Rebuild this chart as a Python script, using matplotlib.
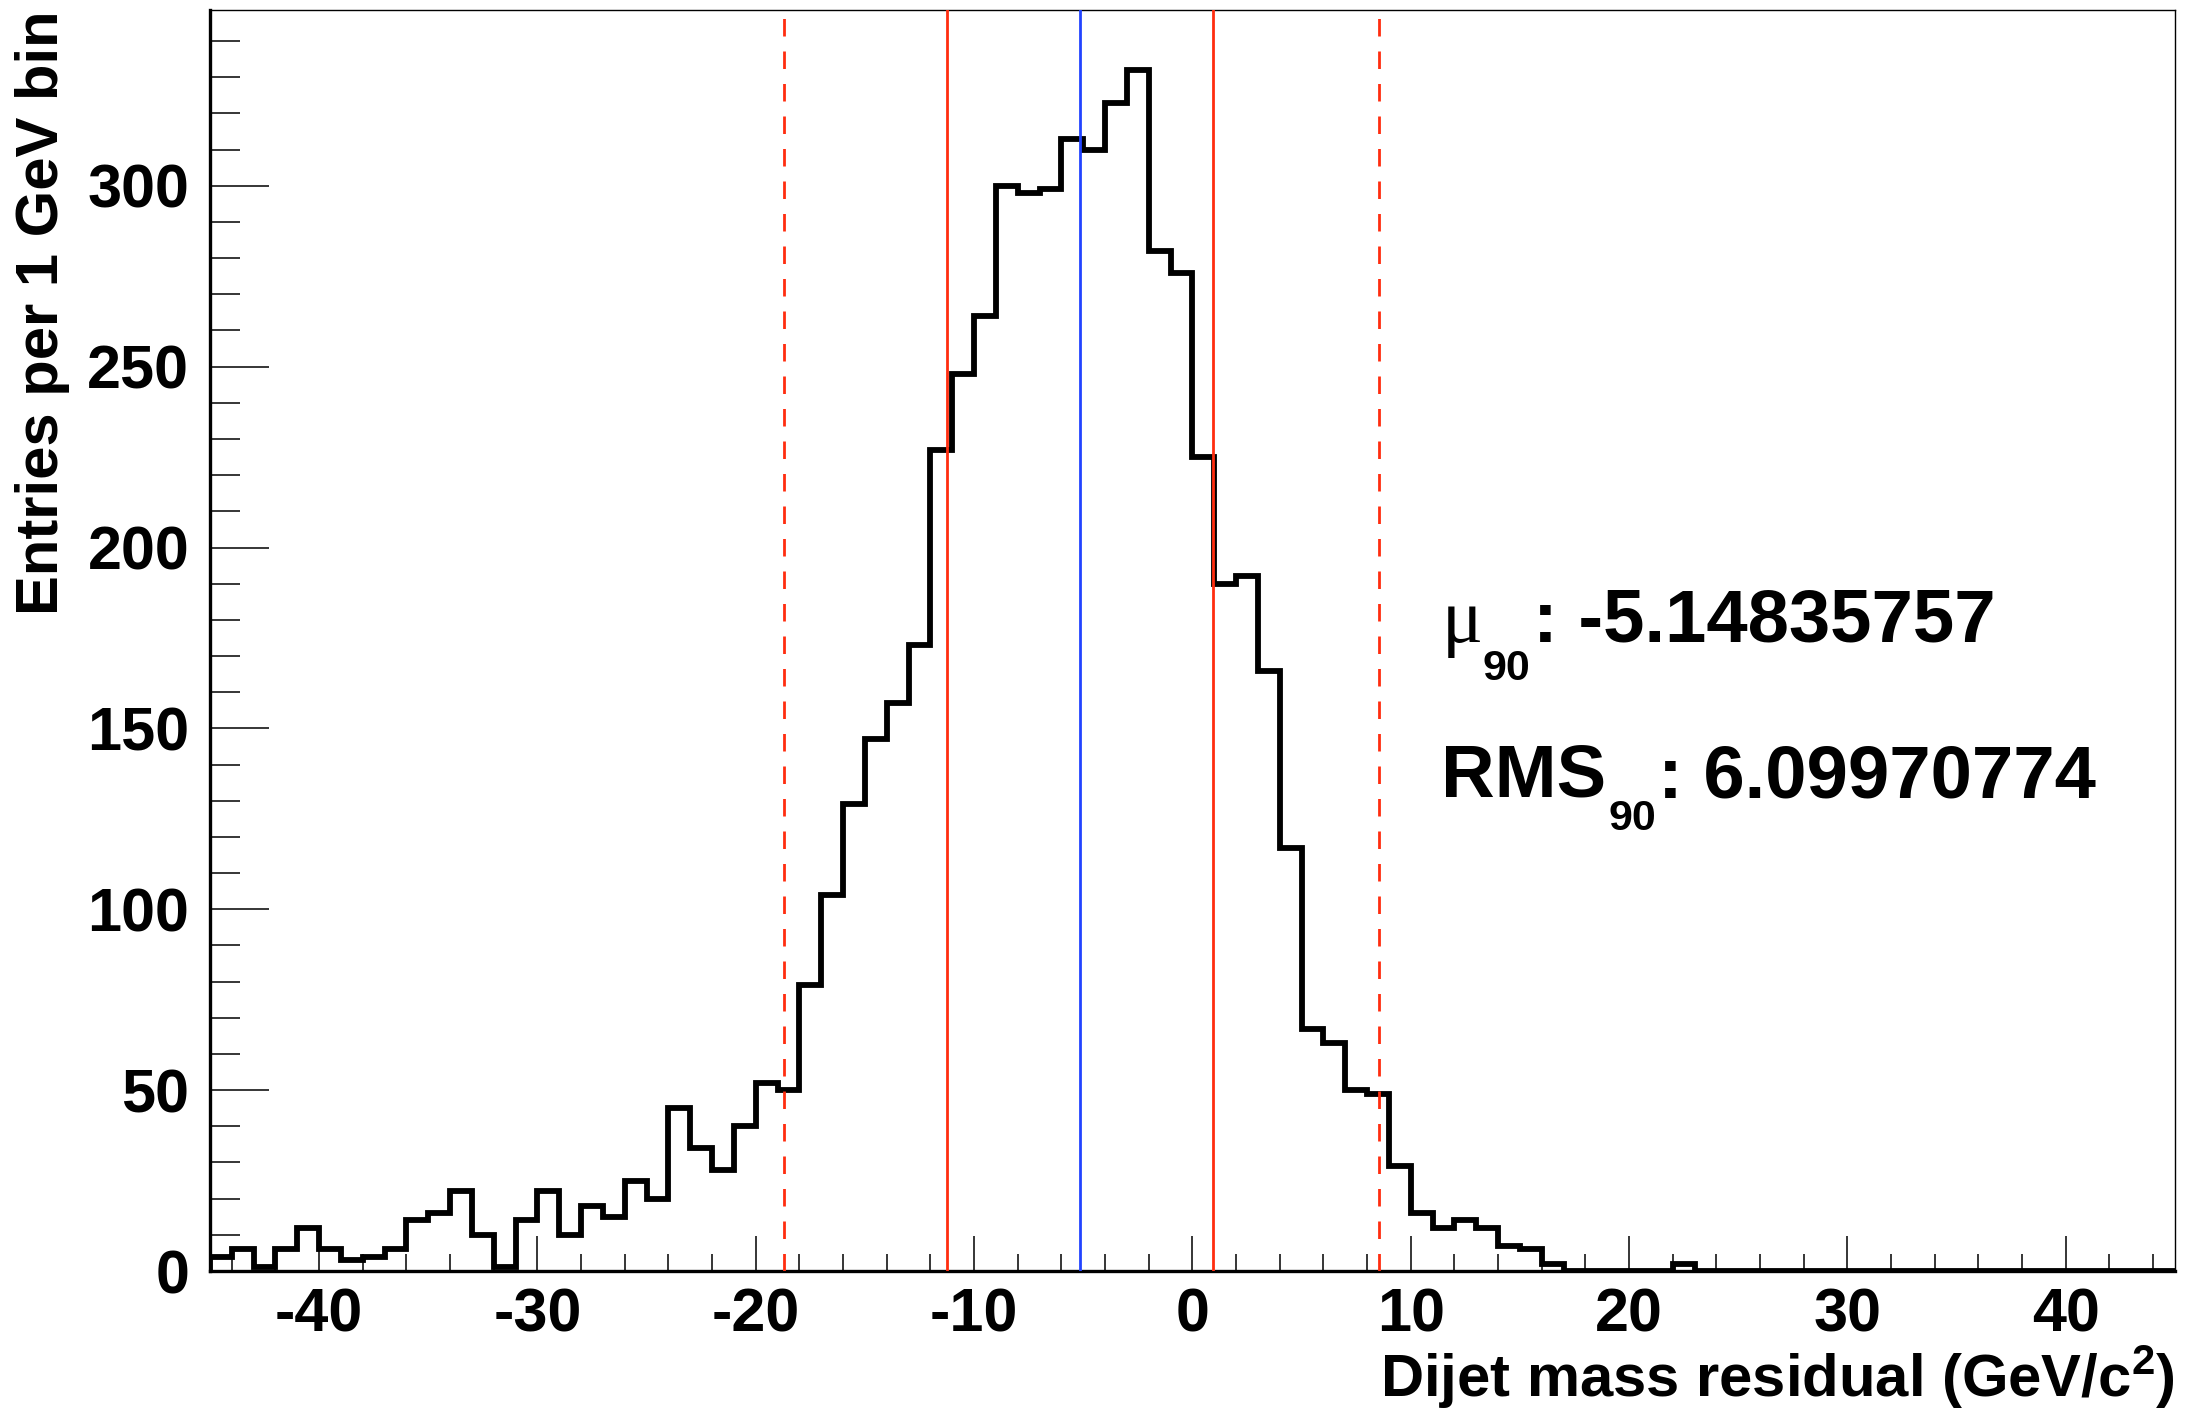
import matplotlib
matplotlib.use("Agg")
import matplotlib.pyplot as plt
import numpy as np
from matplotlib.ticker import MultipleLocator

# ---------------- data ----------------
bin_lo, bin_hi = -45, 45          # 1 GeV bins
counts = [
    4, 6, 1, 6, 12, 6, 3, 4, 6, 14,          # -45 .. -36
    16, 22, 10, 1, 14, 22, 10, 18, 15, 25,   # -35 .. -26
    20, 45, 34, 28, 40, 52, 50, 79, 104, 129, # -25 .. -16
    147, 157, 173, 227, 248, 264, 300, 298, 299, 313,  # -15 .. -6
    310, 323, 332, 282, 276,                 # -5 .. -1
    225, 190, 192, 166, 117, 67, 63, 50, 49, 29,  # 0 .. 9
    16, 12, 14, 12, 7, 6, 2, 0, 0, 0,        # 10 .. 19
    0, 0, 2, 0, 0, 0, 0, 0, 0, 0,            # 20 .. 29
    0, 0, 0, 0, 0, 0, 0, 0, 0, 0,            # 30 .. 39
    0, 0, 0, 0, 0,                           # 40 .. 44
]
mu90 = -5.14835757
rms90 = 6.09970774
window_lo, window_hi = -18.73, 8.55
mu_label = "-5.14835757"
rms_label = "6.09970774"
xlabel = "Dijet mass residual (GeV/c$^{2}$)"
ylabel = "Entries per 1 GeV bin"

# ---------------- style ----------------
plt.rcParams["font.family"] = ["Liberation Sans", "DejaVu Sans"]
plt.rcParams["font.weight"] = "bold"
plt.rcParams["axes.labelweight"] = "bold"
plt.rcParams["mathtext.default"] = "regular"
plt.rcParams["axes.unicode_minus"] = False

edges = np.arange(bin_lo, bin_hi + 1, 1)
counts = np.array(counts, dtype=float)

fig = plt.figure(figsize=(21.93, 14.11), dpi=100)
ax = fig.add_axes([0.09576, 0.09922, 0.8960, 0.8937])

ax.stairs(counts, edges, color="black", linewidth=4.2, baseline=0, zorder=1)

red = "#ff2d0f"
blue = "#2244ff"
ax.axvline(mu90, color=blue, linewidth=2.0, zorder=3)
ax.axvline(mu90 - rms90, color=red, linewidth=2.0, zorder=3)
ax.axvline(mu90 + rms90, color=red, linewidth=2.0, zorder=3)
ax.axvline(window_lo, color=red, linewidth=2.0, linestyle=(0, (6.3, 5.4)), zorder=3)
ax.axvline(window_hi, color=red, linewidth=2.0, linestyle=(0, (6.3, 5.4)), zorder=3)

ax.set_xlim(bin_lo, bin_hi)
ax.set_ylim(0, 1.05 * counts.max())

ax.xaxis.set_major_locator(MultipleLocator(10))
ax.xaxis.set_minor_locator(MultipleLocator(2))
ax.yaxis.set_major_locator(MultipleLocator(50))
ax.yaxis.set_minor_locator(MultipleLocator(10))

ax.tick_params(which="both", direction="in", top=False, right=False,
               width=1.1, color="black")
ax.tick_params(axis="x", which="major", length=25, pad=12, labelsize=44)
ax.tick_params(axis="x", which="minor", length=12.5)
ax.tick_params(axis="y", which="major", length=42.5, pad=15, labelsize=44)
ax.tick_params(axis="y", which="minor", length=21.6)

for s in ("left", "bottom"):
    ax.spines[s].set_linewidth(2.4)
for s in ("top", "right"):
    ax.spines[s].set_linewidth(1.0)

ax.set_xlabel(xlabel, fontsize=43, fontweight="bold", loc="right")
ax.xaxis.label.set_va("baseline")
ax.xaxis.set_label_coords(1.0, -0.0999)

ax.set_ylabel(ylabel, fontsize=43, fontweight="bold", loc="top")
ax.yaxis.set_label_coords(-0.0712, 1.0)

# ---------------- annotations ----------------
x_txt = 11.40
y_mu = 174.0
y_rms = 130.8

t_mu = ax.text(x_txt, y_mu, "\u03bc", fontsize=55, family=["Liberation Serif", "DejaVu Serif"],
               fontweight="normal", va="baseline", ha="left")
s_mu = ax.annotate("90", xy=(1, y_mu), xycoords=(t_mu, "data"), xytext=(0, -7),
                   textcoords="offset pixels", fontsize=31, va="top", ha="left")
ax.annotate(": " + mu_label, xy=(1, y_mu), xycoords=(s_mu, "data"), xytext=(3, 0),
            textcoords="offset pixels", fontsize=53.5, va="baseline", ha="left")

t_rms = ax.text(x_txt, y_rms, "RMS", fontsize=53.5, va="baseline", ha="left")
s_rms = ax.annotate("90", xy=(1, y_rms), xycoords=(t_rms, "data"), xytext=(2, -1),
                    textcoords="offset pixels", fontsize=31, va="top", ha="left")
ax.annotate(": " + rms_label, xy=(1, y_rms), xycoords=(s_rms, "data"), xytext=(2, 0),
            textcoords="offset pixels", fontsize=53.5, va="baseline", ha="left")

fig.savefig("out.png", dpi=100)
